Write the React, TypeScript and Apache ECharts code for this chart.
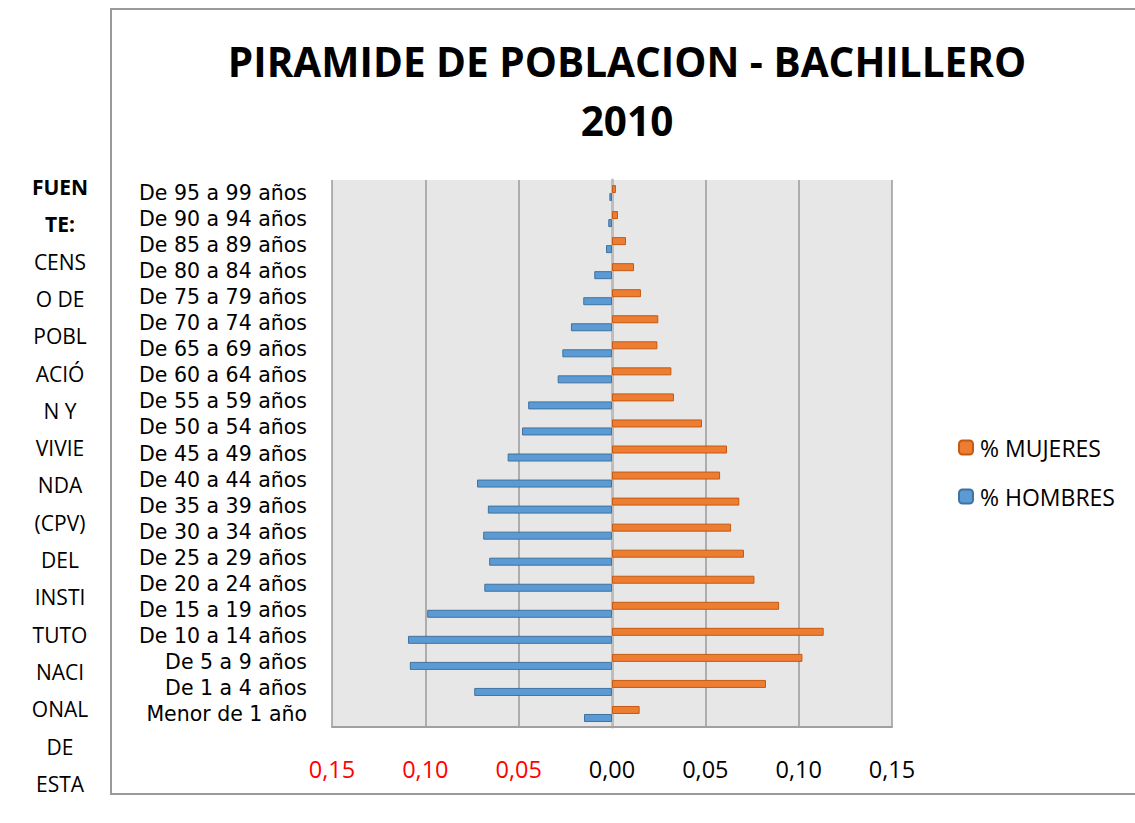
import React, { useEffect, useRef } from "react";
import * as echarts from "echarts";

const categories = [
  "Menor de 1 año", "De 1 a 4 años", "De 5 a 9 años", "De 10 a 14 años", "De 15 a 19 años",
  "De 20 a 24 años", "De 25 a 29 años", "De 30 a 34 años", "De 35 a 39 años", "De 40 a 44 años",
  "De 45 a 49 años", "De 50 a 54 años", "De 55 a 59 años", "De 60 a 64 años", "De 65 a 69 años",
  "De 70 a 74 años", "De 75 a 79 años", "De 80 a 84 años", "De 85 a 89 años", "De 90 a 94 años",
  "De 95 a 99 años",
];
const mujeres = [
  0.0148, 0.0825, 0.102, 0.1134, 0.0895, 0.0763, 0.0707, 0.0638, 0.0682, 0.0579,
  0.0616, 0.0482, 0.0332, 0.0318, 0.0243, 0.0248, 0.0155, 0.0118, 0.0075, 0.0032, 0.0021,
];
const hombres = [
  -0.015, -0.0738, -0.1083, -0.1093, -0.099, -0.0684, -0.0658, -0.069, -0.0665, -0.0723,
  -0.0559, -0.0482, -0.0449, -0.0291, -0.0266, -0.022, -0.0154, -0.0095, -0.0032, -0.002, -0.0014,
];
const titleLines = ["PIRAMIDE DE POBLACION - BACHILLERO", "2010"];
const sourceLines = [
  "FUEN", "TE:", "CENS", "O DE", "POBL", "ACIÓ", "N Y", "VIVIE", "NDA", "(CPV)",
  "DEL", "INSTI", "TUTO", "NACI", "ONAL", "DE", "ESTA",
];

const FONT = "'Open Sans', sans-serif";
const LABEL_FONT = "'DejaVu Sans', sans-serif";

export default function App() {
  const ref = useRef<HTMLDivElement>(null);
  useEffect(() => {
    if (!ref.current) return;
    const chart = echarts.init(ref.current, null, { renderer: "svg" });
    const graphics: any[] = [
      {
        type: "rect",
        shape: { x: 111, y: 9, width: 1040, height: 785 },
        style: { fill: "none", stroke: "#9a9a9a", lineWidth: 2 },
        z: 0,
      },
      ...titleLines.map((t, i) => ({
        type: "text",
        x: 627,
        y: 61 + i * 59,
        style: {
          text: t,
          fontFamily: FONT,
          fontWeight: "bold",
          fontSize: 40.5,
          fill: "#000",
          textAlign: "center",
          textVerticalAlign: "middle",
        },
      })),
      ...sourceLines.map((t, i) => ({
        type: "text",
        x: 60,
        y: 187 + i * 37.3,
        style: {
          text: t,
          fontFamily: FONT,
          fontWeight: i < 2 ? "bold" : "normal",
          fontSize: 21,
          lineHeight: 26,
          fill: "#000",
          textAlign: "center",
          textVerticalAlign: "middle",
        },
      })),
    ];
    chart.setOption({
      animation: false,
      grid: {
        left: 332,
        right: 243,
        top: 180,
        bottom: 96,
        show: true,
        backgroundColor: "#e7e7e7",
        borderWidth: 0,
      },
      legend: {
        orient: "vertical",
        left: 958,
        top: 436,
        padding: 0,
        itemWidth: 14,
        itemHeight: 14,
        itemGap: 26,
        data: ["% MUJERES", "% HOMBRES"],
        textStyle: { fontFamily: FONT, fontSize: 23, color: "#000", padding: [0, 0, 0, 2] },
      },
      xAxis: {
        type: "value",
        min: -0.15,
        max: 0.15,
        interval: 0.05,
        axisLine: { show: true, onZero: false, lineStyle: { color: "#a0a0a0", width: 2 } },
        axisTick: { show: false },
        splitLine: { show: true, lineStyle: { color: "#9a9a9a", width: 1.5 } },
        axisLabel: {
          margin: 30,
          fontFamily: FONT,
          fontSize: 23.5,
          lineHeight: 24,
          color: (v: any) => (Number(v) < 0 ? "#ff0000" : "#000000"),
          formatter: (v: number) => Math.abs(v).toFixed(2).replace(".", ","),
        },
      },
      yAxis: {
        type: "category",
        data: categories,
        axisLine: { show: true, onZero: true, lineStyle: { color: "#bdbdbd", width: 3 } },
        axisTick: { show: false },
        axisLabel: {
          interval: 0,
          hideOverlap: false,
          margin: 25,
          fontFamily: LABEL_FONT,
          fontSize: 20.5,
          lineHeight: 22,
          color: "#000",
        },
      },
      series: [
        {
          name: "% MUJERES",
          type: "bar",
          data: mujeres,
          barWidth: 8,
          barGap: "0%",
          itemStyle: { color: "#ed7d31", borderColor: "#c55a11", borderWidth: 1 },
        },
        {
          name: "% HOMBRES",
          type: "bar",
          data: hombres,
          barWidth: 8,
          barGap: "0%",
          itemStyle: { color: "#5b9bd5", borderColor: "#41719c", borderWidth: 1 },
        },
      ],
      graphic: graphics,
    });
    return () => chart.dispose();
  }, []);
  return (
    <div
      ref={ref}
      style={{ position: "absolute", left: 0, top: 0, width: 1135, height: 823, background: "#fff" }}
    />
  );
}
